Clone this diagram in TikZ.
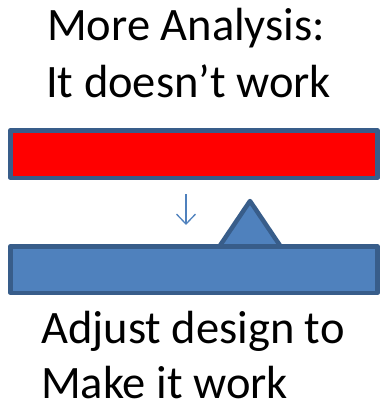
\documentclass[tikz,border=0pt]{standalone}
\usepackage{fontspec}
\setmainfont{Carlito}
\usetikzlibrary{arrows.meta}
\definecolor{pptred}{HTML}{FF0000}
\definecolor{pptblue}{HTML}{4F81BD}
\definecolor{pptborder}{HTML}{385D8A}
\begin{document}
\begin{tikzpicture}[x=1pt,y=-1pt,
  bar/.style={draw=pptborder, line width=4.5pt, line join=round},
  label/.style={anchor=base west, inner sep=0pt, font=\fontsize{46.5}{57}\selectfont},
]
\useasboundingbox (0,0) rectangle (380,401);
\node[label] (t1) at (47,41) {More Analysis:};
\node[label] (t2) at (46,98) {It doesn’t work};
\filldraw[bar, fill=pptred] (10.25,130.25) rectangle (377.5,177.75);
\filldraw[bar, fill=pptblue] (250,201) -- (219.5,246.25) -- (280.5,246.25) -- cycle;
\filldraw[bar, fill=pptblue] (10.25,246.25) rectangle (377.5,292.75);
\coordinate (a1) at (186,194);
\coordinate (a2) at (186,225);
\draw[pptblue, line width=1.3pt, -{Straight Barb[length=10pt,width=19pt]}] (a1) -- (a2);
\node[label] (b1) at (41,343) {Adjust design to};
\node[label] (b2) at (41,398.5) {Make it work};
\end{tikzpicture}
\end{document}
